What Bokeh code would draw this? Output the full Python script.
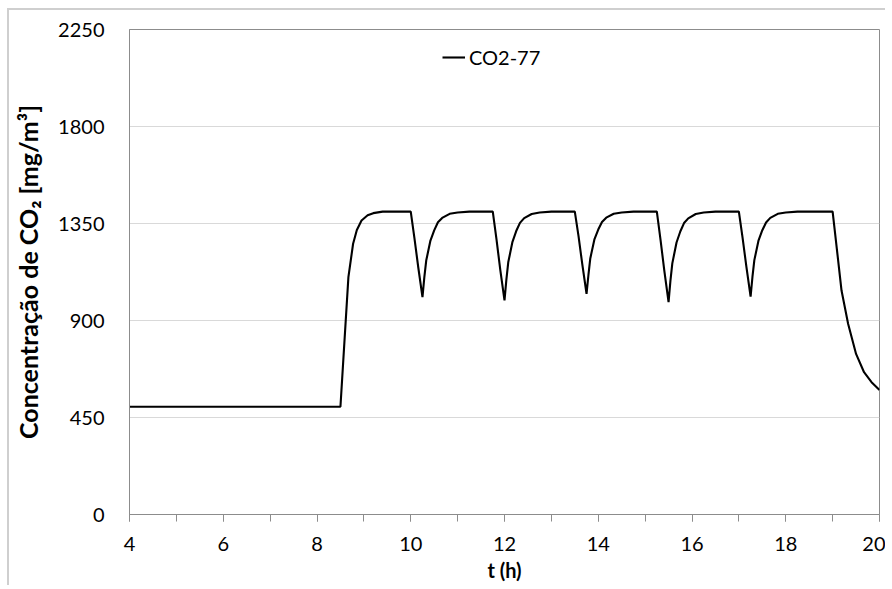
from bokeh.plotting import figure
from bokeh.models import Range1d, FixedTicker, SingleIntervalTicker, Legend, LegendItem
from bokeh.embed import file_html
from bokeh.resources import INLINE

# ---- data ----
t_h = [4.0, 8.5, 8.6, 8.67, 8.77, 8.85, 8.95, 9.08, 9.2, 9.4, 10.0,
       10.08, 10.16, 10.25, 10.29, 10.33, 10.42, 10.5, 10.58, 10.67, 10.83, 11.0, 11.25, 11.75,
       11.83, 11.91, 12.0, 12.04, 12.08, 12.17, 12.25, 12.33, 12.42, 12.58, 12.75, 13.0, 13.5,
       13.58, 13.66, 13.75, 13.79, 13.83, 13.92, 14.0, 14.08, 14.17, 14.33, 14.5, 14.75, 15.25,
       15.33, 15.41, 15.5, 15.54, 15.58, 15.67, 15.75, 15.83, 15.92, 16.08, 16.25, 16.5, 17.0,
       17.08, 17.16, 17.25, 17.29, 17.33, 17.42, 17.5, 17.58, 17.67, 17.83, 18.0, 18.25, 19.0,
       19.07, 19.19, 19.33, 19.5, 19.67, 19.83, 20.0]
co2_77 = [500, 500, 854, 1101, 1256, 1320, 1364, 1388, 1398, 1405, 1405,
          1280, 1147, 1008, 1101, 1178, 1271, 1318, 1356, 1376, 1395, 1401, 1405, 1405,
          1275, 1135, 993, 1090, 1170, 1265, 1315, 1353, 1375, 1394, 1401, 1405, 1405,
          1290, 1160, 1024, 1110, 1188, 1278, 1322, 1357, 1377, 1395, 1401, 1405, 1405,
          1272, 1130, 985, 1085, 1165, 1262, 1313, 1352, 1374, 1394, 1401, 1405, 1405,
          1282, 1150, 1011, 1103, 1180, 1272, 1319, 1355, 1376, 1395, 1401, 1405, 1405,
          1271, 1039, 885, 745, 660, 614, 578]
series_label = "CO2-77"
y_ticks = [0, 450, 900, 1350, 1800, 2250]

FONT = "Lato"
GRAY = "#8c8c8c"

p = figure(width=878, height=577,
           x_range=Range1d(4, 20), y_range=Range1d(0, 2250),
           output_backend="svg", toolbar_location=None,
           min_border_left=120, min_border_right=8,
           min_border_top=19, min_border_bottom=73)

p.outline_line_color = GRAY
p.outline_line_width = 1
p.background_fill_color = "white"
p.border_fill_color = "white"

r = p.line(t_h, co2_77, line_color="black", line_width=2.1)

# grid
p.xgrid.visible = False
p.ygrid.grid_line_color = "#d9d9d9"
p.ygrid.grid_line_width = 1
p.ygrid.ticker = FixedTicker(ticks=y_ticks)

# x axis
p.xaxis.ticker = SingleIntervalTicker(interval=2, num_minor_ticks=2)
p.xaxis.axis_line_color = GRAY
p.xaxis.major_tick_line_color = GRAY
p.xaxis.minor_tick_line_color = GRAY
p.xaxis.major_tick_out = 7
p.xaxis.major_tick_in = 0
p.xaxis.minor_tick_out = 7
p.xaxis.minor_tick_in = 0
p.xaxis.major_label_text_font = FONT
p.xaxis.major_label_text_font_size = "20px"
p.xaxis.major_label_text_color = "black"
p.xaxis.major_label_standoff = 15
p.xaxis.axis_label = "t (h)"
p.xaxis.axis_label_text_font = FONT
p.xaxis.axis_label_text_font_style = "bold"
p.xaxis.axis_label_text_font_size = "20px"
p.xaxis.axis_label_text_color = "black"
p.xaxis.axis_label_standoff = 4

# y axis
p.yaxis.ticker = FixedTicker(ticks=y_ticks)
p.yaxis.axis_line_color = GRAY
p.yaxis.major_tick_out = 0
p.yaxis.major_tick_in = 0
p.yaxis.minor_tick_line_color = None
p.yaxis.major_label_text_font = FONT
p.yaxis.major_label_text_font_size = "20px"
p.yaxis.major_label_text_color = "black"
p.yaxis.major_label_standoff = 25
p.yaxis.axis_label = "Concentração de CO₂ [mg/m³]"
p.yaxis.axis_label_text_font = FONT
p.yaxis.axis_label_text_font_style = "bold"
p.yaxis.axis_label_text_font_size = "25px"
p.yaxis.axis_label_text_color = "black"
p.yaxis.axis_label_standoff = 12

legend = Legend(items=[LegendItem(label=series_label, renderers=[r])],
                location=(313, 445), padding=0, margin=0, spacing=0,
                border_line_color=None, background_fill_alpha=0,
                glyph_width=23, glyph_height=20, label_standoff=4,
                label_text_font=FONT, label_text_font_size="20px",
                label_text_color="black")
p.add_layout(legend)

p.styles = {"margin-left": "7px", "margin-top": "8px",
            "border-left": "2px solid #cfcfcf", "border-top": "2px solid #cfcfcf"}

open("out.html", "w").write(file_html(p, INLINE))
